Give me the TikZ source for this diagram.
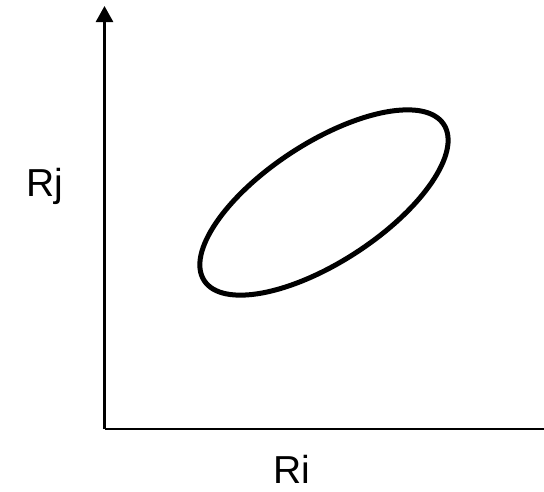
\documentclass[tikz,border=0pt]{standalone}
\usepackage{fontspec}
\setmainfont{Liberation Sans}
\usetikzlibrary{arrows.meta}

\begin{document}
\begin{tikzpicture}[x=1pt, y=-1pt,
  axis/.style={line width=2.7pt, -{Triangle[length=16pt, width=17pt]}},
  lbl/.style={font=\fontsize{39}{39}\selectfont, inner sep=0pt}]
\useasboundingbox (0,0) rectangle (544,491);
\coordinate (o) at (104.5,429);
\coordinate (ytop) at (104.5,6);
\coordinate (xend) at (560,429);
\draw[axis] (o) -- (ytop);
\draw[axis] (o) -- (xend);
\node[lbl, anchor=base] (rj) at (44.5,196) {Rj};
\node[lbl, anchor=base] (ri) at (292,483) {Ri};
% the cloud of points
\coordinate (c) at (324,202.5);
\draw[line width=5pt, rotate around={33.1:(c)}] (c) ellipse (143pt and 59.5pt);
\end{tikzpicture}
\end{document}
